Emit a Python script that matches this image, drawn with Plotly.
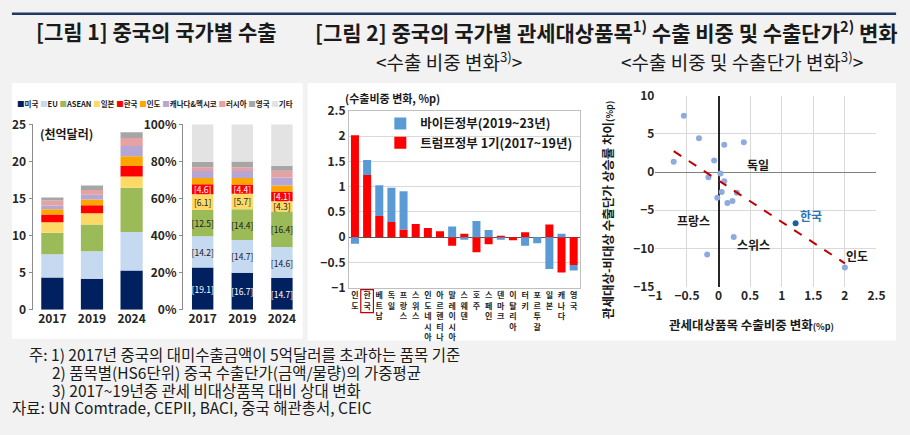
import numpy as np
import plotly.graph_objects as go

W, H = 910, 435
FONT = "Noto Sans CJK KR"

# ---- [그림 1] 중국의 국가별 수출 ----
years = ["2017", "2019", "2024"]
regions = ["미국", "EU", "ASEAN", "일본", "한국", "인도", "캐나다&멕시코", "러시아", "영국", "기타"]
colors = ["#002060", "#c5d9f1", "#9bbb59", "#ffd966", "#ff0000",
          "#ffa500", "#b4a7d6", "#e6a1a3", "#a6a6a6", "#e3e3e3"]

# 수출액 (천억달러)
amt_usa = [4.34, 4.20, 5.29]
amt_eu = [3.15, 3.68, 5.19]
amt_asean = [2.90, 3.62, 5.97]
amt_jpn = [1.40, 1.50, 1.52]
amt_kor = [1.07, 1.08, 1.43]
amt_ind = [0.70, 0.78, 1.30]
amt_cnmx = [0.51, 0.64, 1.38]
amt_rus = [0.65, 0.65, 1.09]
amt_uk = [0.43, 0.60, 0.78]

# 비중 (%)
shr_usa = [22.8, 20.0, 17.1]
shr_eu = [16.9, 17.6, 16.7]
shr_asean = [14.1, 16.6, 19.2]
shr_jpn = [8.5, 8.4, 5.5]
shr_kor = [5.4, 5.0, 5.3]
shr_ind = [3.4, 3.5, 3.2]
shr_cnmx = [3.7, 3.7, 4.3]
shr_rus = [2.1, 2.1, 3.7]
shr_uk = [3.0, 3.1, 2.7]
shr_etc = [20.1, 20.0, 22.3]

lbl_usa = ["[19.1]", "[16.7]", "[14.7]"]
lbl_eu = ["[14.2]", "[14.7]", "[14.6]"]
lbl_asean = ["[12.5]", "[14.4]", "[16.4]"]
lbl_jpn = ["[6.1]", "[5.7]", "[4.3]"]
lbl_kor = ["[4.6]", "[4.4]", "[4.1]"]

# ---- [그림 2] 수출 비중 변화 (%p) ----
countries = ["인도", "한국", "베트남", "독일", "프랑스", "스위스", "인도네시아", "아르헨티나",
             "말레이시아", "스웨덴", "호주", "스페인", "덴마크", "이탈리아", "터키", "포르투갈",
             "일본", "캐나다", "영국"]
trump = [2.02, 1.23, 0.42, 0.30, 0.15, 0.26, 0.18, 0.12, -0.17, 0.07, -0.30, -0.14,
         0.03, -0.06, 0.10, 0.00, 0.25, -0.70, -0.55]
biden = [-0.13, 0.30, 0.61, 0.68, 0.76, 0.00, 0.00, 0.00, 0.21, -0.05, 0.32, 0.14,
         -0.05, 0.00, -0.17, -0.12, -0.63, 0.07, -0.11]

# ---- 수출 비중 및 수출단가 변화 ----
share_chg = [-0.55, -0.31, 0.09, 0.40, -0.71, -0.07, 0.03, -0.16, 0.09, 0.05,
             0.29, -0.02, 0.14, 0.22, 0.24, -0.18, 2.00]
price_gap = [7.35, 4.4, 3.55, 3.9, 1.35, 1.5, -0.2, -0.7, -1.2, -2.6,
             -2.7, -3.35, -4.05, -3.8, -8.5, -10.8, -12.5]
kor_x = [1.22]
kor_y = [-6.7]
scatter_labels = ["독일", "프랑스", "스위스", "한국", "인도"]
label_x = [0.63, -0.40, 0.55, 1.47, 2.20]
label_y = [1.0, -6.3, -9.5, -5.7, -10.9]


def fx(px):
    return px / W


def fy(py):
    return 1 - py / H


fig = go.Figure()

amts = [amt_usa, amt_eu, amt_asean, amt_jpn, amt_kor, amt_ind, amt_cnmx, amt_rus, amt_uk]
shrs = [shr_usa, shr_eu, shr_asean, shr_jpn, shr_kor, shr_ind, shr_cnmx, shr_rus, shr_uk, shr_etc]
lbls = [lbl_usa, lbl_eu, lbl_asean, lbl_jpn, lbl_kor]
txtcol = ["white", "#1a1a1a", "#1a1a1a", "#1a1a1a", "white"]

for i, vals in enumerate(amts):
    fig.add_trace(go.Bar(x=years, y=vals, marker=dict(color=colors[i], line=dict(width=0)),
                         width=0.56, showlegend=False, xaxis="x", yaxis="y"))
for i, vals in enumerate(shrs):
    tr = dict(x=years, y=vals, marker=dict(color=colors[i], line=dict(width=0)),
              width=0.54, showlegend=False, xaxis="x2", yaxis="y2", cliponaxis=False)
    if i < len(lbls):
        tr.update(text=lbls[i], textposition="inside", insidetextanchor="middle",
                  textangle=0, constraintext="none",
                  textfont=dict(family=FONT, size=8.5, color=txtcol[i]))
    fig.add_trace(go.Bar(**tr))

cat_ticks = ["<br>".join(list(c)) for c in countries]
fig.add_trace(go.Bar(x=countries, y=trump, name="트럼프정부 1기(2017~19년)",
                     marker=dict(color="#ff0000", line=dict(width=0)), width=0.66,
                     xaxis="x3", yaxis="y3"))
fig.add_trace(go.Bar(x=countries, y=biden, name="바이든정부(2019~23년)",
                     marker=dict(color="#5b9bd5", line=dict(width=0)), width=0.66,
                     xaxis="x3", yaxis="y3"))

fig.add_trace(go.Scatter(x=share_chg, y=price_gap, mode="markers",
                         marker=dict(color="#8faadc", size=6), showlegend=False,
                         xaxis="x4", yaxis="y4"))
all_x = np.array(share_chg + kor_x)
all_y = np.array(price_gap + kor_y)
slope, icpt = np.polyfit(all_x, all_y, 1)
tx = np.array([all_x.min(), all_x.max()])
fig.add_trace(go.Scatter(x=tx, y=slope * tx + icpt, mode="lines",
                         line=dict(color="#c00000", width=2, dash="dash"),
                         showlegend=False, xaxis="x4", yaxis="y4"))
fig.add_trace(go.Scatter(x=kor_x, y=kor_y, mode="markers",
                         marker=dict(color="#1f5f9f", size=6), showlegend=False,
                         xaxis="x4", yaxis="y4"))

tickfont = dict(family=FONT, size=12, color="#262626", weight="bold")

fig.update_layout(
    width=W, height=H, autosize=False,
    margin=dict(l=0, r=0, t=0, b=0),
    paper_bgcolor="#f2f2f2", plot_bgcolor="rgba(0,0,0,0)",
    font=dict(family=FONT, color="#1a1a1a"),
    barmode="relative", bargap=0.3,
    xaxis=dict(domain=[fx(26), fx(147)], anchor="y", tickfont=tickfont, showline=False,
               ticks=""),
    yaxis=dict(domain=[fy(312), fy(119)], anchor="x", range=[0, 25], dtick=5,
               tickfont=tickfont, showgrid=False, zeroline=False, showline=True,
               linecolor="#8c8c8c", ticks="outside", ticklen=3, tickcolor="#8c8c8c"),
    xaxis2=dict(domain=[fx(179), fx(300)], anchor="y2", tickfont=tickfont, showline=False,
                ticks=""),
    yaxis2=dict(domain=[fy(312), fy(119)], anchor="x2", range=[0, 100], dtick=20,
                ticksuffix="%", tickfont=tickfont, showgrid=False, zeroline=False,
                showline=True, linecolor="#8c8c8c", ticks="outside", ticklen=3,
                tickcolor="#8c8c8c"),
    xaxis3=dict(domain=[fx(348), fx(583)], anchor="y3", tickmode="array",
                tickvals=countries, ticktext=cat_ticks, tickangle=0, ticklabelstandoff=0,
                tickfont=dict(family=FONT, size=8, color="#262626", weight="bold"),
                showline=True, mirror=True, linecolor="#bfbfbf", ticks=""),
    yaxis3=dict(domain=[fy(289), fy(105)], anchor="x3", range=[-1, 2.5], dtick=0.5,
                tickfont=tickfont, showgrid=True, gridcolor="#d9d9d9", zeroline=True,
                zerolinecolor="#595959", zerolinewidth=1, showline=True, mirror=True,
                linecolor="#bfbfbf"),
    xaxis4=dict(domain=[fx(660), fx(885)], anchor="y4", range=[-1, 2.5], dtick=0.5,
                tickfont=tickfont, showgrid=True, gridcolor="#d9d9d9", zeroline=True,
                zerolinecolor="#262626", zerolinewidth=1.5, showline=False),
    yaxis4=dict(domain=[fy(288), fy(89)], anchor="x4", range=[-15, 10], dtick=5,
                tickfont=tickfont, showgrid=True, gridcolor="#d9d9d9", zeroline=True,
                zerolinecolor="#808080", zerolinewidth=1.2, showline=False),
    legend=dict(x=fx(380), y=fy(103), xanchor="left", yanchor="top",
                traceorder="reversed", bgcolor="rgba(0,0,0,0)",
                font=dict(family=FONT, size=12.5, color="#1a1a1a", weight="bold"),
                itemwidth=30, tracegroupgap=0),
)

shapes = [
    dict(type="rect", xref="paper", yref="paper", x0=fx(5), x1=fx(301), y0=fy(342), y1=fy(76),
         fillcolor="white", line=dict(width=0), layer="below"),
    dict(type="rect", xref="paper", yref="paper", x0=fx(306), x1=fx(905), y0=fy(344), y1=fy(76),
         fillcolor="white", line=dict(width=0), layer="below"),
    dict(type="line", xref="paper", yref="paper", x0=fx(5), x1=fx(905), y0=fy(4), y1=fy(4),
         line=dict(color="#1f3864", width=2.5)),
    dict(type="rect", xref="x3", yref="paper", x0=0.48, x1=1.52, y0=fy(315), y1=fy(291),
         line=dict(color="#c00000", width=1.2)),
]

ann = []


def add_text(px, py, text, size=12, bold=False, color="#1a1a1a", xanchor="left", **kw):
    ann.append(dict(xref="paper", yref="paper", x=fx(px), y=fy(py), text=text,
                    showarrow=False, xanchor=xanchor, yanchor="middle",
                    font=dict(family=FONT, size=size, color=color,
                              weight="bold" if bold else "normal"), **kw))


add_text(27, 22, "[그림 1] 중국의 국가별 수출", size=21, bold=True)
add_text(311, 22, "[그림 2] 중국의 국가별 관세대상품목<sup>1)</sup> 수출 비중 및 수출단가<sup>2)</sup> 변화",
         size=21, bold=True)
add_text(450, 53, "&lt;수출 비중 변화<sup>3)</sup>&gt;", size=19, xanchor="center")
add_text(748, 53, "&lt;수출 비중 및 수출단가 변화<sup>3)</sup>&gt;", size=19, xanchor="center")

legend_html = " ".join(
    f"<span style='color:{c}'>■</span>{r}" for r, c in zip(regions, colors))
add_text(8, 97, legend_html, size=7.5, bold=True)
add_text(32, 129, "(천억달러)", size=12, bold=True)

add_text(342, 92, "(수출비중 변화, %p)", size=11, bold=True)

for t, x, y in zip(scatter_labels, label_x, label_y):
    ann.append(dict(xref="x4", yref="y4", x=x, y=y, text=t, showarrow=False,
                    xanchor="center", yanchor="middle",
                    font=dict(family=FONT, size=12, weight="bold",
                              color="#2e75b6" if t == "한국" else "#1a1a1a")))
add_text(612, 208, "관세대상-비대상 수출단가 상승률 차이<span style='font-size:9px'>(%p)</span>",
         size=12.5, bold=True, xanchor="center", textangle=-90)
add_text(758, 327, "관세대상품목 수출비중 변화<span style='font-size:9px'>(%p)</span>",
         size=12.5, bold=True, xanchor="center")

add_text(20, 358, "주: 1) 2017년 중국의 대미수출금액이 5억달러를 초과하는 품목 기준", size=15.5)
add_text(44, 376.5, "2) 품목별(HS6단위) 중국 수출단가(금액/물량)의 가중평균", size=15.5)
add_text(44, 395, "3) 2017~19년중 관세 비대상품목 대비 상대 변화", size=15.5)
add_text(3, 413.5, "자료: UN Comtrade, CEPII, BACI, 중국 해관총서, CEIC", size=15.5)

fig.update_layout(shapes=shapes, annotations=ann)
fig.write_html("out.html", config={"displayModeBar": False},
               post_script="document.body.style.margin='0';")
